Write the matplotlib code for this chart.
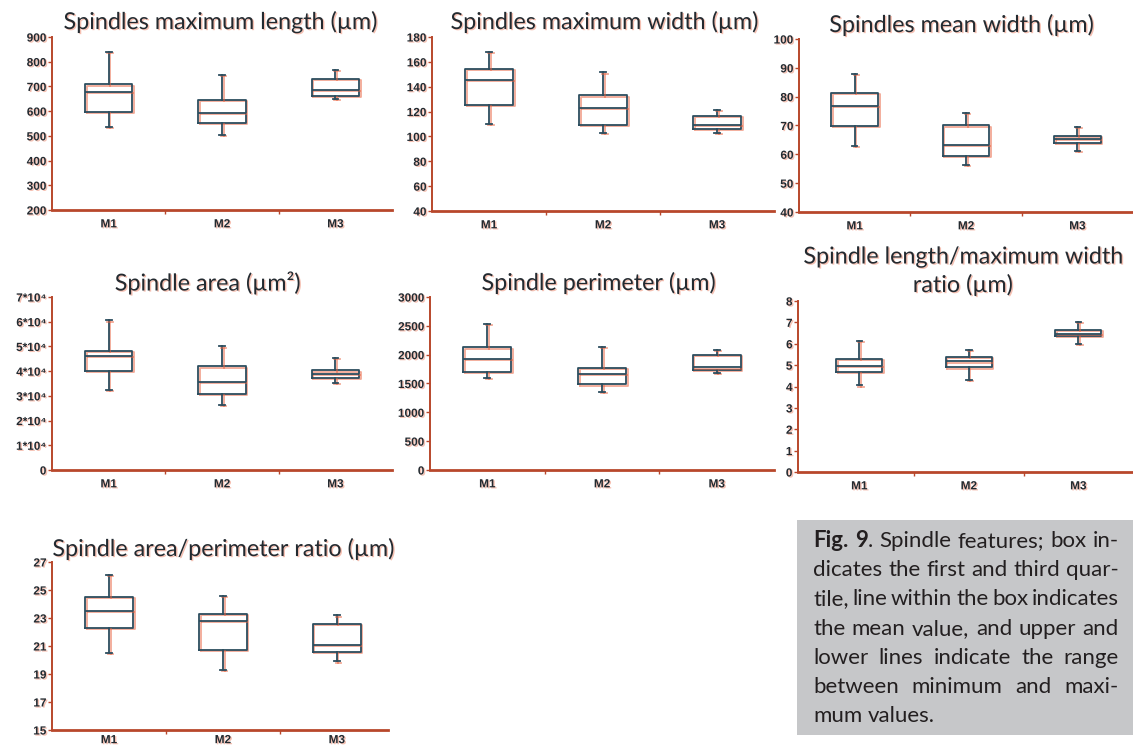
import matplotlib
matplotlib.use("Agg")
import matplotlib.pyplot as plt
import matplotlib.patheffects as pe
import numpy as np

W, H = 1133, 748

GROUPS = ["M1", "M2", "M3"]

# box statistics per group: minimum, first quartile, mean, third quartile, maximum
LEN_MIN = [536, 503, 648]
LEN_Q1 = [596, 551, 660]
LEN_MEAN = [677, 594, 687]
LEN_Q3 = [708, 644, 730]
LEN_MAX = [841, 746, 768]

MAXW_MIN = [110, 103, 103]
MAXW_Q1 = [125, 109.5, 106]
MAXW_MEAN = [145.5, 123, 109.5]
MAXW_Q3 = [154.5, 133, 116.5]
MAXW_MAX = [168, 151.5, 121]

MEANW_MIN = [63, 56.4, 61.1]
MEANW_Q1 = [69.7, 59.3, 64]
MEANW_MEAN = [76.7, 63.4, 65.2]
MEANW_Q3 = [81.4, 70, 66.3]
MEANW_MAX = [87.8, 74.4, 69.5]

AREA_MIN = [32400, 26400, 35100]
AREA_Q1 = [40000, 30900, 37300]
AREA_MEAN = [46000, 35700, 38900]
AREA_Q3 = [48100, 41900, 40300]
AREA_MAX = [60500, 50000, 45400]

PERIM_MIN = [1593, 1361, 1680]
PERIM_Q1 = [1703, 1483, 1732]
PERIM_MEAN = [1929, 1662, 1778]
PERIM_Q3 = [2126, 1772, 1992]
PERIM_MAX = [2537, 2131, 2085]

LWR_MIN = [4.05, 4.3, 5.99]
LWR_Q1 = [4.7, 4.89, 6.37]
LWR_MEAN = [4.98, 5.17, 6.47]
LWR_Q3 = [5.28, 5.4, 6.66]
LWR_MAX = [6.13, 5.71, 7.02]

APR_MIN = [20.5, 19.3, 19.9]
APR_Q1 = [22.27, 20.71, 20.57]
APR_MEAN = [23.5, 22.78, 21.08]
APR_Q3 = [24.48, 23.32, 22.6]
APR_MAX = [26.07, 24.55, 23.18]

AREA_TICK_LABELS = ["0", "1*10\u2074", "2*10\u2074", "3*10\u2074", "4*10\u2074",
                    "5*10\u2074", "6*10\u2074", "7*10\u2074"]

CAPTION = [
    "dicates the first and third quar-",
    "tile, line within the box indicates",
    "the mean value, and upper and",
    "lower lines indicate the range",
    "between minimum and maxi-",
    "mum values.",
]

BOX_COLOR = "#2c4d5e"
AXIS_COLOR = "#b8472b"
TEXT_COLOR = "#232a30"
FRINGE = "#e8623f"

fringe_line = [pe.SimpleLineShadow(offset=(1.2, -0.8), shadow_color=FRINGE, alpha=0.55),
               pe.Normal()]
fringe_text = [pe.withSimplePatchShadow(offset=(1, -0.8), shadow_rgbFace=FRINGE, alpha=0.4)]

fig = plt.figure(figsize=(W / 100, H / 100), dpi=100)
fig.patch.set_facecolor("white")


def px_axes(left, top, right, bottom):
    return fig.add_axes([left / W, 1 - bottom / H, (right - left) / W, (bottom - top) / H])


def box_panel(rect, lo, q1, mid, q3, hi, ylim, yticks, xlim=(0.5, 3.5), yticklabels=None,
              xpad=6):
    ax = px_axes(*rect)
    stats = []
    for i in range(len(GROUPS)):
        stats.append({"whislo": lo[i], "q1": q1[i], "med": mid[i], "q3": q3[i],
                      "whishi": hi[i], "fliers": []})
    lp = dict(color=BOX_COLOR, linewidth=1.3, path_effects=fringe_line)
    ax.bxp(stats, positions=[1, 2, 3], widths=0.42, capwidths=0.05, showfliers=False,
           boxprops=lp, medianprops=lp, whiskerprops=lp, capprops=lp)
    ax.set_xlim(*xlim)
    ax.set_ylim(*ylim)
    ax.set_yticks(yticks)
    if yticklabels is not None:
        ax.set_yticklabels(yticklabels)
    ax.set_xticks([1, 2, 3])
    ax.set_xticklabels(GROUPS)
    ax.set_xticks([1.5, 2.5], minor=True)
    ax.tick_params(axis="x", which="major", length=0, pad=xpad)
    ax.tick_params(axis="x", which="minor", length=3, width=1, color=AXIS_COLOR, direction="out")
    ax.tick_params(axis="y", length=3, width=1, color=AXIS_COLOR, pad=1)
    for lab in ax.get_xticklabels() + ax.get_yticklabels():
        lab.set_fontfamily("Liberation Sans")
        lab.set_fontweight("bold")
        lab.set_fontsize(8.5)
        lab.set_color(TEXT_COLOR)
        lab.set_path_effects(fringe_text)
    for side in ["top", "right"]:
        ax.spines[side].set_visible(False)
    ax.spines["left"].set_color(AXIS_COLOR)
    ax.spines["left"].set_linewidth(1.4)
    ax.spines["bottom"].set_color(AXIS_COLOR)
    ax.spines["bottom"].set_linewidth(2)
    ax.patch.set_alpha(0)
    return ax


def title(text, x, y):
    fig.text(x / W, 1 - y / H, text, ha="center", va="center", fontsize=16.8,
             family=["Lato", "DejaVu Sans"], color=TEXT_COLOR, path_effects=fringe_text)


box_panel((52, 37, 392, 210), LEN_MIN, LEN_Q1, LEN_MEAN, LEN_Q3, LEN_MAX,
          (200, 900), np.arange(200, 901, 100))
title("Spindles maximum length (\u00b5m)", 221, 22)

box_panel((432, 37, 774, 211), MAXW_MIN, MAXW_Q1, MAXW_MEAN, MAXW_Q3, MAXW_MAX,
          (40, 180), np.arange(40, 181, 20))
title("Spindles maximum width (\u00b5m)", 605, 22)

box_panel((799, 39, 1133, 212), MEANW_MIN, MEANW_Q1, MEANW_MEAN, MEANW_Q3, MEANW_MAX,
          (40, 100), np.arange(40, 101, 10))
title("Spindles mean width (\u00b5m)", 962, 25)

box_panel((52, 297, 392, 470), AREA_MIN, AREA_Q1, AREA_MEAN, AREA_Q3, AREA_MAX,
          (0, 70000), np.arange(0, 70001, 10000), yticklabels=AREA_TICK_LABELS)
title("Spindle area (\u00b5m\u00b2)", 208, 283)

box_panel((430, 297, 774, 470), PERIM_MIN, PERIM_Q1, PERIM_MEAN, PERIM_Q3, PERIM_MAX,
          (0, 3000), np.arange(0, 3001, 500))
title("Spindle perimeter (\u00b5m)", 599, 283)

box_panel((798, 301, 1133, 472), LWR_MIN, LWR_Q1, LWR_MEAN, LWR_Q3, LWR_MAX,
          (0, 8), np.arange(0, 9, 1), xlim=(0.44, 3.5))
title("Spindle length/maximum width", 964, 257)
title("ratio (\u00b5m)", 963, 285)

box_panel((52, 562, 388, 730), APR_MIN, APR_Q1, APR_MEAN, APR_Q3, APR_MAX,
          (15, 27), np.arange(15, 28, 2), xlim=(0.5, 3.45), xpad=3)
title("Spindle area/perimeter ratio (\u00b5m)", 224, 549)

# caption panel
fig.patches.append(plt.Rectangle((797 / W, 1 - 735 / H), (W - 797) / W, (735 - 520) / H,
                                 transform=fig.transFigure, facecolor="#c6c7c9",
                                 edgecolor="none", zorder=0))

renderer = fig.canvas.get_renderer()
cap_font = dict(family=["Lato", "DejaVu Sans"], fontsize=16, color="#231f20", va="baseline")
text_left, text_right = 813, 1119
line_step = 29.2
base0 = 547


def piece_width(txt, weight):
    t = fig.text(0, 0, txt, fontweight=weight, **cap_font)
    w = t.get_window_extent(renderer).width
    t.remove()
    return w


def set_line(words, baseline, justify=True):
    widths = [sum(piece_width(p, wt) for p, wt in word) for word in words]
    if justify and len(words) > 1:
        gap = (text_right - text_left - sum(widths)) / (len(words) - 1)
    else:
        gap = piece_width("a b", "normal") - piece_width("ab", "normal")
    x = text_left
    for word, ww in zip(words, widths):
        px = x
        for p, wt in word:
            fig.text(px / W, 1 - baseline / H, p, fontweight=wt, **cap_font)
            px += piece_width(p, wt)
        x += ww + gap


first = [[("Fig.", "bold")], [("9", "bold"), (".", "normal")], [("Spindle", "normal")],
         [("features;", "normal")], [("box", "normal")], [("in-", "normal")]]
set_line(first, base0)
for i, line in enumerate(CAPTION):
    words = [[(w, "normal")] for w in line.split()]
    set_line(words, base0 + line_step * (i + 1), justify=(i < len(CAPTION) - 1))

fig.savefig("out.png", dpi=100)
